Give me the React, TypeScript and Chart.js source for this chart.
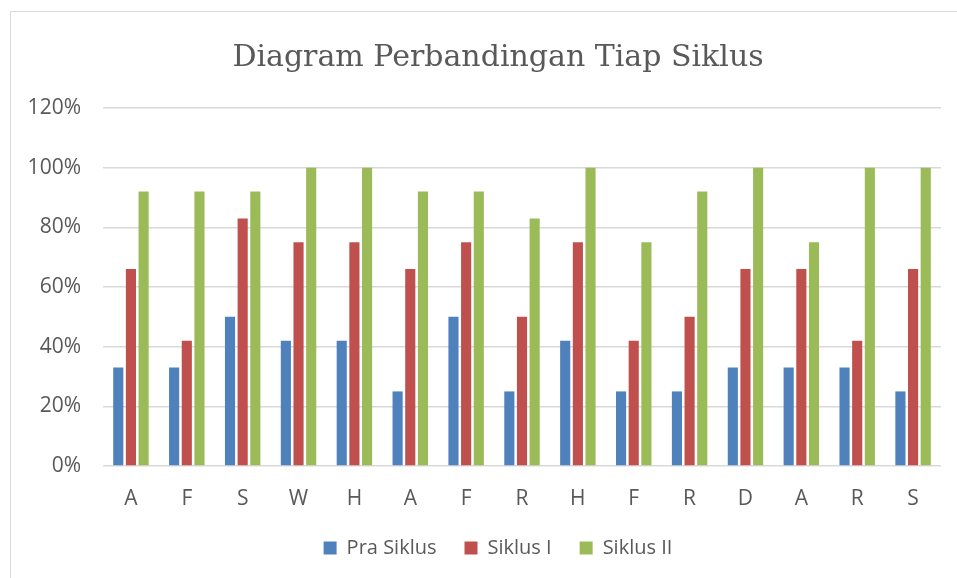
import React, { useEffect, useRef } from "react";
import { Chart, registerables } from "chart.js";

Chart.register(...registerables);

const categories = ["A", "F", "S", "W", "H", "A", "F", "R", "H", "F", "R", "D", "A", "R", "S"];
const praSiklus = [0.33, 0.33, 0.5, 0.42, 0.42, 0.25, 0.5, 0.25, 0.42, 0.25, 0.25, 0.33, 0.33, 0.33, 0.25];
const siklusI = [0.66, 0.42, 0.83, 0.75, 0.75, 0.66, 0.75, 0.5, 0.75, 0.42, 0.5, 0.66, 0.66, 0.42, 0.66];
const siklusII = [0.92, 0.92, 0.92, 1.0, 1.0, 0.92, 0.92, 0.83, 1.0, 0.75, 0.92, 1.0, 0.75, 1.0, 1.0];
const seriesNames = ["Pra Siklus", "Siklus I", "Siklus II"];
const titleText = "Diagram Perbandingan Tiap Siklus";

const TEXT = "#595959";
const GRID = "#D9D9D9";
const FONT = "'Open Sans', 'Noto Sans', sans-serif";
const TITLE_FONT = "'DejaVu Serif', 'Liberation Serif', serif";

export default function App() {
  const ref = useRef<HTMLCanvasElement | null>(null);
  useEffect(() => {
    if (!ref.current) return;
    const chart = new Chart(ref.current, {
      type: "bar",
      data: {
        labels: categories,
        datasets: [
          { label: seriesNames[0], data: praSiklus, backgroundColor: "#4F81BD" },
          { label: seriesNames[1], data: siklusI, backgroundColor: "#C0504D" },
          { label: seriesNames[2], data: siklusII, backgroundColor: "#9BBB59" },
        ],
      },
      options: {
        responsive: false,
        animation: false,
        datasets: { bar: { categoryPercentage: 0.68, barPercentage: 0.8 } },
        layout: { padding: { left: 0, right: 0, top: 0, bottom: 10 } },
        plugins: {
          title: {
            display: true,
            text: titleText,
            color: TEXT,
            font: { family: TITLE_FONT, size: 30, weight: "normal" },
            padding: { top: 28, bottom: 32 },
          },
          legend: {
            position: "bottom",
            labels: {
              color: TEXT,
              boxWidth: 13,
              boxHeight: 13,
              padding: 28,
              font: { family: FONT, size: 20 },
            },
          },
          tooltip: { enabled: false },
        },
        scales: {
          x: {
            grid: { display: false, drawTicks: false },
            border: { display: false },
            ticks: { color: TEXT, padding: 20, font: { family: FONT, size: 21 } },
            afterFit: (s: any) => { s.height = 44; },
          },
          y: {
            min: 0,
            max: 1.2,
            grid: { color: GRID, lineWidth: 1.5, drawTicks: false },
            border: { display: false },
            ticks: {
              stepSize: 0.2,
              color: TEXT,
              padding: 22,
              font: { family: FONT, size: 21 },
              callback: (v: any) => Math.round(Number(v) * 100) + "%",
            },
            afterFit: (s: any) => { s.width = 92; },
          },
          yRight: {
            position: "right",
            display: true,
            grid: { display: false, drawTicks: false },
            border: { display: false },
            ticks: { display: false },
            afterFit: (s: any) => { s.width = 44; },
          },
        },
      },
    });
    return () => chart.destroy();
  }, []);
  return (
    <div style={{ position: "absolute", left: 0, top: 0, width: 957, height: 578, overflow: "hidden", background: "#fff" }}>
      <div style={{ position: "absolute", left: 10, top: 11, borderTop: `1px solid ${GRID}`, borderLeft: `1px solid ${GRID}`, width: 974, height: 600 }}>
        <canvas ref={ref} width={974} height={566} style={{ display: "block" }} />
      </div>
    </div>
  );
}
